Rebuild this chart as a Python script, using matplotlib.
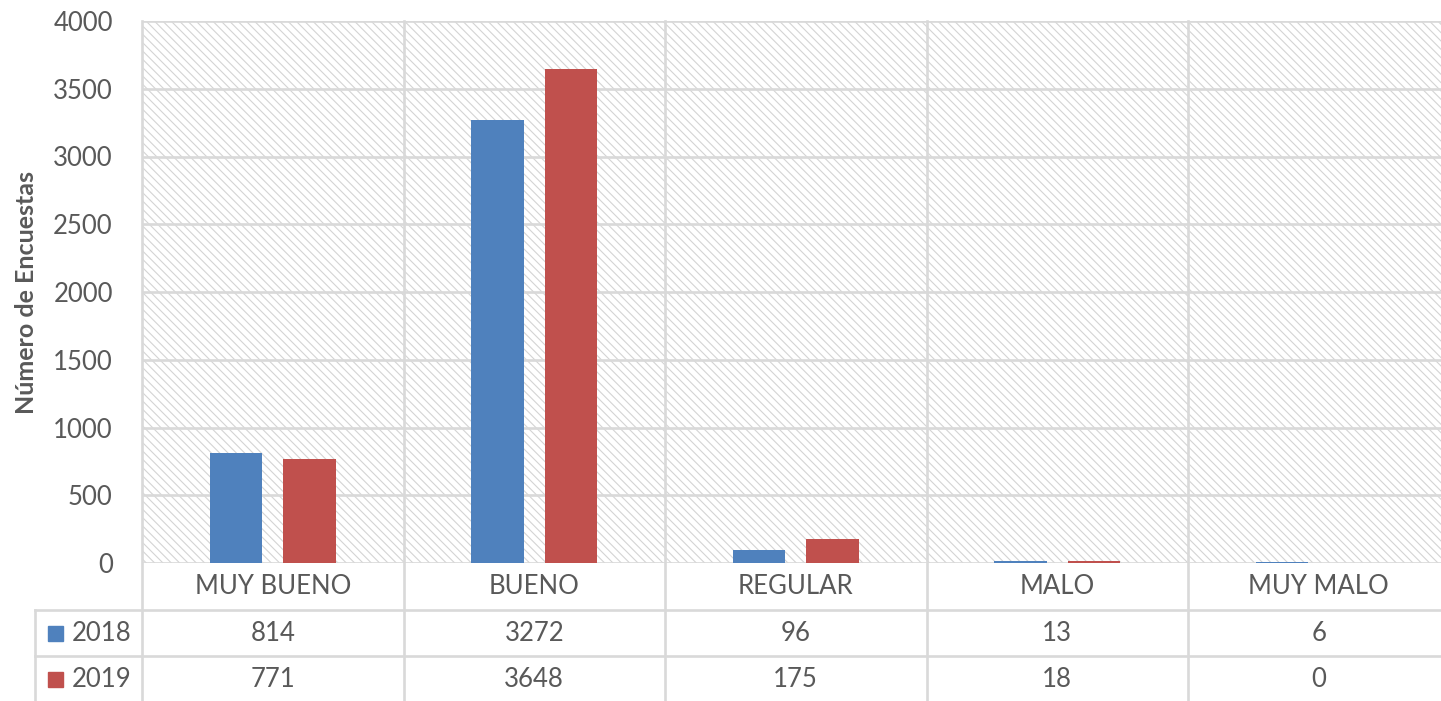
import numpy as np
import matplotlib
matplotlib.use('Agg')
import matplotlib.pyplot as plt
from matplotlib.transforms import blended_transform_factory
from matplotlib.patches import Rectangle

categories = ['MUY BUENO', 'BUENO', 'REGULAR', 'MALO', 'MUY MALO']
years = ['2018', '2019']
values_2018 = [814, 3272, 96, 13, 6]
values_2019 = [771, 3648, 175, 18, 0]
series = [values_2018, values_2019]
colors = ['#4F81BD', '#C0504D']
yticks = [0, 500, 1000, 1500, 2000, 2500, 3000, 3500, 4000]

plt.rcParams['font.family'] = ['Lato', 'DejaVu Sans']
plt.rcParams['hatch.linewidth'] = 0.8
text_color = '#595959'
grid_color = '#d9d9d9'
fs = 18.5

W, H = 1441, 701
fig = plt.figure(figsize=(W / 100, H / 100), dpi=100)
ax = fig.add_axes([142 / W, (H - 563) / H, (1449.5 - 142) / W, (563 - 21) / H])

# hatched plot background
ax.patch.set_facecolor('white')
ax.patch.set_edgecolor('#d4d4d4')
ax.patch.set_hatch('\\\\\\\\')
ax.patch.set_linewidth(0)

x = np.arange(len(categories))
width = 0.2
offsets = [-0.14, 0.14]
for vals, off, col in zip(series, offsets, colors):
    ax.bar(x + off, vals, width, color=col, zorder=3)

ax.set_xlim(-0.5, len(categories) - 0.5)
ax.set_ylim(0, 4000)
ax.set_yticks(yticks)
ax.set_yticklabels([str(t) for t in yticks])
ax.set_xticks([])
for s in ax.spines.values():
    s.set_visible(False)
ax.tick_params(axis='y', length=0, pad=21, labelsize=fs, labelcolor=text_color)
for t in yticks:
    ax.axhline(t, color=grid_color, lw=1.9, zorder=1)

ax.set_ylabel('Número de Encuestas', fontsize=18, fontweight='bold',
              color=text_color)
ax.yaxis.set_label_coords(-(142 - 38) / 1307.5, 0.5)

# data table under the plot
tr = blended_transform_factory(ax.transData, ax.transAxes)
row_h = 46.7 / 542
left = -0.5 - 107 / 261.5
n = len(categories)

for b in np.arange(-0.5, n, 1.0):
    ax.plot([b, b], [1, -3 * row_h], transform=tr, color=grid_color,
            lw=1.9, clip_on=False, zorder=2)
ax.plot([left, left], [-row_h, -3 * row_h], transform=tr, color=grid_color,
        lw=1.9, clip_on=False)
for k in (1, 2):
    ax.plot([left, n - 0.5], [-k * row_h, -k * row_h], transform=tr,
            color=grid_color, lw=1.9, clip_on=False)

for i, c in enumerate(categories):
    ax.text(i, -0.5 * row_h, c, transform=tr, ha='center', va='center',
            fontsize=fs, color=text_color)

for r, (yr, vals, col) in enumerate(zip(years, series, colors)):
    yc = -(r + 1.5) * row_h
    ax.add_patch(Rectangle((-0.5 - 94 / 261.5, yc - 7.5 / 542), 15 / 261.5, 15 / 542,
                           transform=tr, color=col, clip_on=False))
    ax.text(-0.5 - 70 / 261.5, yc, yr, transform=tr, ha='left', va='center',
            fontsize=fs, color=text_color)
    for i, v in enumerate(vals):
        ax.text(i, yc, str(v), transform=tr, ha='center', va='center',
                fontsize=fs, color=text_color)

fig.savefig('out.png', dpi=100)
